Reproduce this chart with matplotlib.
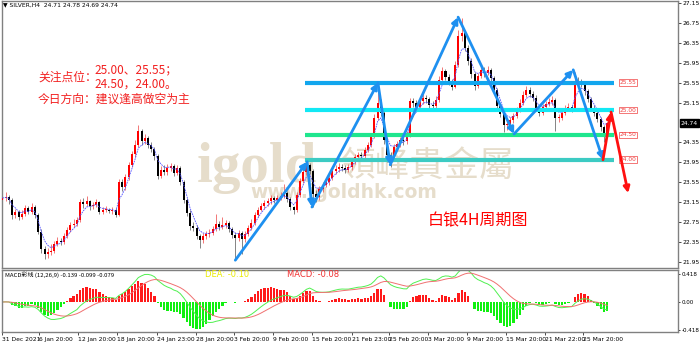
import matplotlib
matplotlib.use("Agg")
import matplotlib.pyplot as plt
import numpy as np
import pandas as pd

plt.rcParams['font.family'] = ['Noto Sans CJK SC', 'DejaVu Sans']

# SILVER H4, one candle per two 4H bars
closes = [23.23, 23.26, 23.20, 22.88, 22.95, 22.84, 22.90, 23.03, 22.94, 23.06,
          22.88, 22.55, 22.20, 22.10, 22.14, 22.16, 22.30, 22.36, 22.35, 22.47,
          22.59, 22.69, 22.71, 22.78, 23.16, 23.12, 23.17, 23.07, 23.10, 23.15,
          22.95, 22.99, 23.00, 22.97, 23.00, 22.89, 23.56, 23.45, 23.65, 23.90,
          24.11, 24.30, 24.57, 24.38, 24.43, 24.30, 24.22, 24.08, 23.68, 23.80,
          23.75, 23.84, 23.88, 23.74, 23.83, 23.55, 23.20, 22.93, 22.66, 22.62,
          22.46, 22.38, 22.46, 22.50, 22.52, 22.60, 22.71, 22.65, 22.69, 22.72,
          22.60, 22.49, 22.42, 22.52, 22.40, 22.50, 22.62, 22.72, 22.88, 23.00,
          23.08, 23.13, 23.18, 23.23, 23.20, 23.24, 23.28, 23.33, 23.22, 23.05,
          22.98, 23.30, 23.58, 23.75, 23.90, 23.78, 23.32, 23.25, 23.42, 23.50,
          23.56, 23.64, 23.78, 23.82, 23.86, 23.84, 23.80, 23.85, 23.98, 24.05,
          24.10, 24.08, 24.20, 24.30, 24.48, 24.85, 25.15, 24.95, 24.40, 24.10,
          24.05, 24.26, 24.32, 24.40, 24.38, 24.50, 25.18, 25.14, 25.07, 25.18,
          25.25, 25.22, 25.10, 25.08, 25.20, 25.60, 25.78, 25.67, 25.58, 25.47,
          25.90, 26.50, 26.55, 26.25, 25.98, 25.72, 25.48, 25.68, 25.80, 25.74,
          25.80, 25.64, 25.40, 25.08, 24.92, 24.70, 24.72, 24.80, 24.88, 25.00,
          25.15, 25.30, 25.40, 25.33, 25.25, 25.05, 24.95, 25.06, 25.12, 25.16,
          25.20, 24.85, 24.85, 24.95, 25.04, 25.06, 25.02, 25.58, 25.56, 25.54,
          25.38, 25.22, 25.05, 24.95, 24.82, 24.65, 24.50, 24.74]
highs = [23.32, 23.35, 23.30, 23.24, 23.02, 23.00, 22.98, 23.10, 23.08, 23.14,
         23.10, 22.92, 22.60, 22.26, 22.22, 22.30, 22.36, 22.44, 22.42, 22.52,
         22.64, 22.74, 22.80, 22.84, 23.22, 23.24, 23.28, 23.20, 23.16, 23.22,
         23.18, 23.05, 23.08, 23.04, 23.06, 23.04, 23.62, 23.62, 23.72, 23.96,
         24.18, 24.40, 24.70, 24.62, 24.52, 24.48, 24.36, 24.26, 24.12, 23.88,
         23.90, 23.92, 23.94, 23.92, 23.90, 23.88, 23.60, 23.24, 22.98, 22.74,
         22.68, 22.50, 22.52, 22.56, 22.60, 22.66, 22.90, 22.76, 22.84, 22.78,
         22.76, 22.64, 22.54, 22.58, 22.56, 22.56, 22.68, 22.80, 22.94, 23.06,
         23.14, 23.20, 23.24, 23.30, 23.28, 23.30, 23.36, 23.52, 23.38, 23.26,
         23.08, 23.36, 23.64, 23.82, 23.98, 23.94, 23.82, 23.40, 23.48, 23.56,
         23.64, 23.70, 23.84, 23.90, 23.94, 23.92, 23.90, 23.92, 24.04, 24.12,
         24.16, 24.16, 24.26, 24.36, 24.54, 24.92, 25.50, 25.22, 25.00, 24.46,
         24.16, 24.32, 24.38, 24.46, 24.46, 24.58, 25.24, 25.24, 25.20, 25.26,
         25.32, 25.30, 25.26, 25.18, 25.28, 25.68, 25.86, 25.82, 25.72, 25.62,
         25.98, 26.62, 26.85, 26.62, 26.30, 26.04, 25.76, 25.74, 25.90, 25.86,
         25.88, 25.84, 25.68, 25.44, 25.12, 24.96, 24.80, 24.86, 24.94, 25.06,
         25.22, 25.38, 25.48, 25.46, 25.38, 25.30, 25.10, 25.12, 25.18, 25.24,
         25.28, 25.24, 24.92, 25.02, 25.10, 25.14, 25.10, 25.76, 25.66, 25.62,
         25.58, 25.42, 25.26, 25.10, 24.98, 24.86, 24.70, 24.78]
lows = [23.12, 23.18, 23.12, 22.80, 22.82, 22.78, 22.80, 22.86, 22.90, 22.90,
        22.82, 22.50, 22.12, 22.00, 22.02, 22.08, 22.12, 22.26, 22.28, 22.30,
        22.42, 22.55, 22.64, 22.66, 22.74, 23.04, 23.08, 23.00, 23.02, 23.06,
        22.90, 22.90, 22.94, 22.92, 22.90, 22.84, 22.86, 23.38, 23.40, 23.60,
        23.86, 24.06, 24.26, 24.30, 24.32, 24.24, 24.16, 24.00, 23.62, 23.64,
        23.70, 23.70, 23.78, 23.68, 23.70, 23.50, 23.14, 22.86, 22.58, 22.56,
        22.40, 22.22, 22.32, 22.40, 22.44, 22.48, 22.56, 22.58, 22.60, 22.62,
        22.54, 22.42, 21.98, 22.36, 22.10, 22.34, 22.46, 22.58, 22.68, 22.84,
        22.96, 23.02, 23.08, 23.12, 23.14, 23.16, 23.20, 23.24, 23.16, 22.98,
        22.90, 22.94, 23.26, 23.54, 23.70, 23.72, 23.05, 23.15, 23.20, 23.36,
        23.46, 23.50, 23.60, 23.72, 23.76, 23.78, 23.74, 23.76, 23.80, 23.92,
        24.00, 24.02, 24.04, 24.16, 24.26, 24.44, 24.80, 24.88, 24.32, 23.95,
        23.86, 24.00, 24.20, 24.26, 24.30, 24.32, 24.46, 25.06, 25.00, 25.02,
        25.12, 25.14, 25.04, 25.00, 25.04, 25.16, 25.54, 25.60, 25.50, 25.40,
        25.44, 25.86, 26.40, 26.18, 25.90, 25.64, 25.40, 25.44, 25.64, 25.66,
        25.70, 25.58, 25.34, 25.02, 24.86, 24.56, 24.60, 24.66, 24.74, 24.84,
        24.96, 25.10, 25.26, 25.26, 25.18, 24.98, 24.88, 24.90, 25.00, 25.08,
        25.10, 24.57, 24.76, 24.80, 24.90, 24.98, 24.96, 24.98, 25.48, 25.46,
        25.30, 25.16, 24.98, 24.88, 24.76, 24.58, 24.35, 24.46]
first_open = 23.20

tick_pos = [0, 11.4, 23.4, 35.5, 47.7, 59.8, 71.7, 83.8, 95.8, 108.0,
            119.6, 131.7, 143.8, 155.7, 167.8, 179.6]
tick_labels = ['31 Dec 2021', '6 Jan 20:00', '12 Jan 20:00', '18 Jan 20:00',
               '24 Jan 23:00', '28 Jan 20:00', '3 Feb 20:00', '9 Feb 20:00',
               '15 Feb 20:00', '21 Feb 23:00', '25 Feb 20:00', '3 Mar 20:00',
               '9 Mar 20:00', '15 Mar 20:00', '21 Mar 22:00', '25 Mar 20:00']
# 24.75 sits under the current-price box
price_ticks = [27.15, 26.75, 26.35, 25.95, 25.55, 25.15, 24.35,
               23.95, 23.55, 23.15, 22.75, 22.35, 21.95]

# analysis drawing: zigzag (candle index, price)
zig_x = [72, 94.2, 95.7, 116.1, 119.9, 140.9, 158.2, 176.5, 185.7]
zig_y = [21.98, 23.96, 23.05, 25.55, 23.90, 26.87, 24.52, 25.81, 24.00]
fc_x = [185.7, 188.2, 193.5]
fc_y = [24.00, 24.96, 23.33]
levels = [25.55, 25.00, 24.50, 24.00]
level_colors = ['#12A6EE', '#12E8F4', '#1EE68E', '#3CCBC3']
level_start, level_end = 93.6, 189.2
last_price = 24.74

opens = [first_open] + closes[:-1]
n = len(closes)
idx = np.arange(n)

fig = plt.figure(figsize=(7, 3.44), dpi=100)
ax = fig.add_axes([2 / 700, 1 - 268 / 344, 676 / 700, 267 / 344])
mx = fig.add_axes([2 / 700, 1 - 332 / 344, 676 / 700, 62 / 344])

# watermark, behind the candles
wm = '#E6DDCB'
ax.text(197 / 700, 1 - 182 / 344, 'igold', fontsize=41, fontweight='bold',
        family='Liberation Serif', color=wm, va='baseline', zorder=0,
        transform=fig.transFigure)
ax.text(341 / 700, 1 - 166 / 344, '領峰貴金屬', fontsize=25,
        family=['Noto Sans CJK TC'], color=wm, va='center', zorder=0,
        transform=fig.transFigure)
ax.text(250 / 700, 1 - 192 / 344, 'www.igoldhk.com', fontsize=13.5, fontweight='bold',
        family='DejaVu Sans', color=wm, va='center', zorder=0,
        transform=fig.transFigure)

# candles
up = np.array(closes) >= np.array(opens)
body_lo = np.minimum(opens, closes)
body_h = np.maximum(np.abs(np.array(closes) - np.array(opens)), 0.012)
ax.vlines(idx, lows, highs, color=np.where(up, '#F06060', '#707070'), lw=0.6, zorder=2)
ax.bar(idx, body_h, bottom=body_lo, width=0.62,
       color=np.where(up, '#FF0000', '#000000'), zorder=3)
ma = pd.Series(closes).ewm(span=4, adjust=False).mean()
ax.plot(idx, ma, color='#5050FF', lw=0.6, ls=(0, (2, 1)), zorder=4)

# levels
for lv, col in zip(levels, level_colors):
    ax.hlines(lv, level_start, level_end, color=col, lw=3, zorder=5)
    ax.text(190.8, lv, f'{lv:.2f}', fontsize=4.2, color='#F04040', va='center',
            ha='left', family='DejaVu Sans',
            bbox=dict(boxstyle='square,pad=0.15', fc='white', ec='#F04040', lw=0.5),
            zorder=6)

# zigzag arrows
for k in range(len(zig_x) - 1):
    ax.annotate('', xy=(zig_x[k + 1], zig_y[k + 1]), xytext=(zig_x[k], zig_y[k]),
                arrowprops=dict(arrowstyle='-|>', color='#1E90F0', lw=2.0,
                                mutation_scale=9, shrinkA=0, shrinkB=0), zorder=7)
for k in range(len(fc_x) - 1):
    ax.annotate('', xy=(fc_x[k + 1], fc_y[k + 1]), xytext=(fc_x[k], fc_y[k]),
                arrowprops=dict(arrowstyle='-|>', color='#FF1010', lw=2.0,
                                mutation_scale=9, shrinkA=0, shrinkB=0), zorder=7)

ax.set_xlim(-0.15, 208.9)
ax.set_ylim(21.823, 27.195)
ax.set_xticks([])
ax.yaxis.tick_right()
ax.set_yticks(price_ticks)
ax.set_yticklabels([f'{v:.2f}' for v in price_ticks], family='DejaVu Sans')
ax.tick_params(axis='y', labelsize=4.3, length=2, width=0.5, pad=1.5)
for s in ax.spines.values():
    s.set_color('#808080')
    s.set_linewidth(1)
ax.text(1.004, (last_price - 21.823) / (27.195 - 21.823), f'{last_price:.2f}',
        transform=ax.transAxes, fontsize=4.3, color='white', va='center', ha='left',
        family='DejaVu Sans',
        bbox=dict(boxstyle='square,pad=0.2', fc='black', ec='black'), zorder=10)

# notes
red = '#F22020'
fig.text(38 / 700, 1 - 77 / 344, '关注点位：', fontsize=8.5, color=red, va='center')
fig.text(94 / 700, 1 - 70 / 344, '25.00、25.55；', fontsize=8.5, color=red, va='center')
fig.text(94 / 700, 1 - 84 / 344, '24.50，24.00。', fontsize=8.5, color=red, va='center')
fig.text(38 / 700, 1 - 99 / 344, '今日方向：建议逢高做空为主', fontsize=8.5, color=red,
         va='center')
fig.text(428 / 700, 1 - 221 / 344, '白银4H周期图', fontsize=11.5, color='#FF0000',
         va='center')
fig.text(3 / 700, 1 - 5 / 344, '▼ SILVER,H4  24.71 24.78 24.69 24.74', fontsize=4.3,
         family='DejaVu Sans', va='center')

# MACD
cs = pd.Series(closes)
dif = cs.ewm(span=12, adjust=False).mean() - cs.ewm(span=26, adjust=False).mean()
dea = dif.ewm(span=9, adjust=False).mean()
hist = 2 * (dif - dea)
mx.bar(idx, hist, width=0.7, color=np.where(hist >= 0, '#FF1A1A', '#10F010'))
mx.plot(idx, dif, color='#50F050', lw=0.7)
mx.plot(idx, dea, color='#F07070', lw=0.7)
mx.set_xlim(-0.15, 208.9)
mx.set_ylim(-0.445, 0.474)
mx.yaxis.tick_right()
mx.set_yticks([0.418, 0.0, -0.418])
mx.set_yticklabels(['0.418', '0.00', '-0.418'], family='DejaVu Sans')
mx.tick_params(axis='y', labelsize=4.1, length=1.5, width=0.5, pad=1)
mx.set_xticks(tick_pos)
mx.set_xticklabels(tick_labels, family='DejaVu Sans', ha='left')
mx.tick_params(axis='x', labelsize=4.3, length=2, width=0.5, pad=1.5)
for s in mx.spines.values():
    s.set_color('#808080')
    s.set_linewidth(1)
mx.text(0.004, 0.93, 'MACD彩线 (12,26,9) -0.139 -0.099 -0.079', transform=mx.transAxes,
        fontsize=4.3, va='center')
mx.text(203 / 676, 0.93, 'DEA: -0.10', transform=mx.transAxes, fontsize=6,
        color='#EAEA00', va='center', family='DejaVu Sans')
mx.text(285 / 676, 0.93, 'MACD: -0.08', transform=mx.transAxes, fontsize=6,
        color='#F03030', va='center', family='DejaVu Sans')

fig.savefig('out.png', dpi=100)
